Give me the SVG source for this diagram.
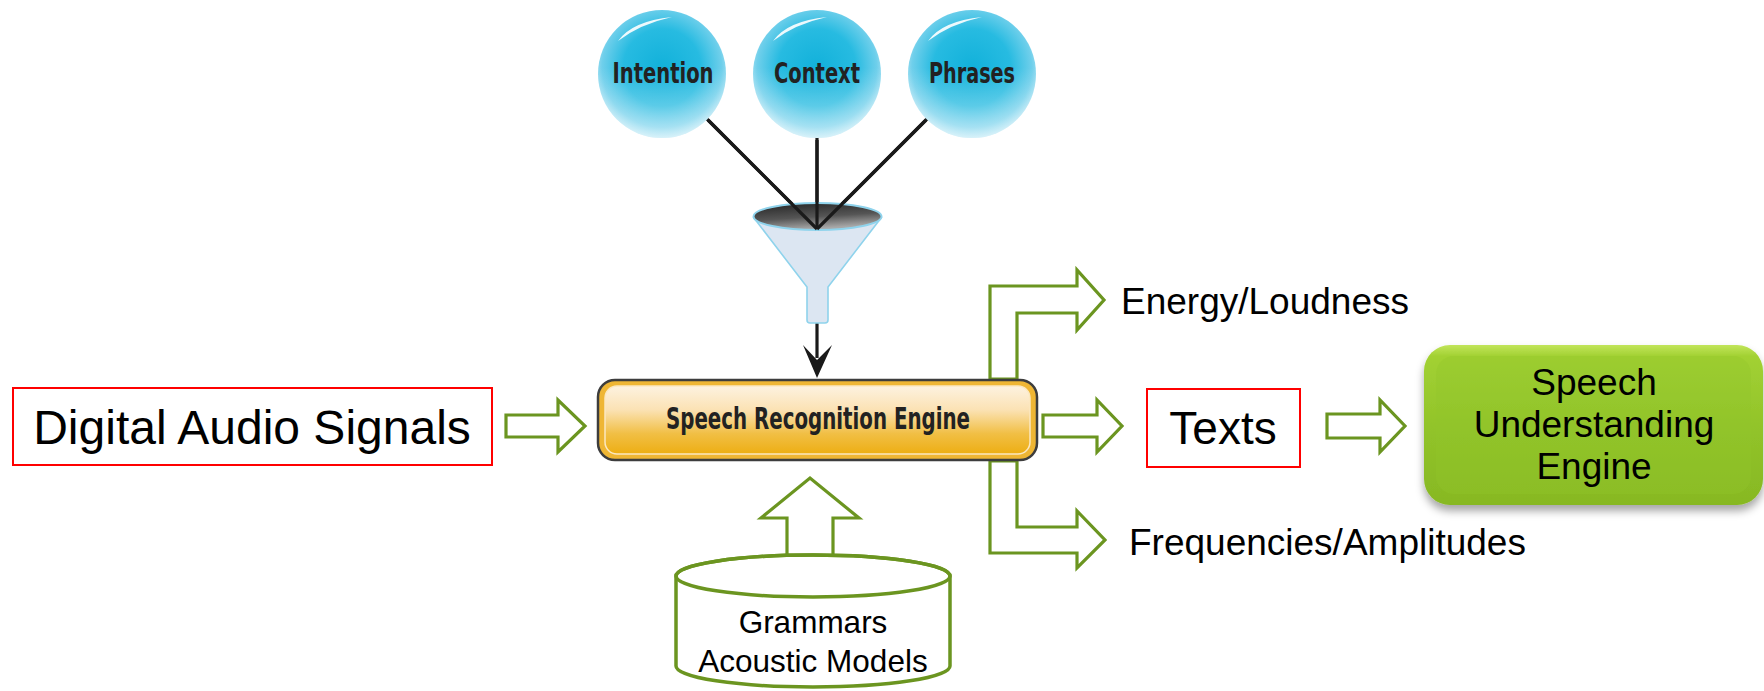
<svg xmlns="http://www.w3.org/2000/svg" xmlns:xlink="http://www.w3.org/1999/xlink" width="1764" height="691" viewBox="0 0 1764 691">
  <style>
    .label { font-family: "Liberation Sans", Arial, sans-serif; fill: #000; }
    .bold-cond { font-family: "Liberation Sans Narrow", "DejaVu Sans Condensed", "Roboto", sans-serif; font-weight: bold; fill: #222; }
    .box-red { fill: #fff; stroke: #ff0000; stroke-width: 2; }
    .block-arrow { fill: #fff; stroke: #6b9520; stroke-width: 3.2; stroke-linejoin: miter; }
    .wire { stroke: #1a1a1a; stroke-width: 3.2; fill: none; }
  </style>
  <defs>
    <radialGradient id="sphereFill" cx="50%" cy="45%" r="55%">
      <stop offset="0" stop-color="#12b1da"/>
      <stop offset="0.55" stop-color="#27bbe1"/>
      <stop offset="0.85" stop-color="#6fcfeb"/>
      <stop offset="1" stop-color="#b8e7f5"/>
    </radialGradient>
    <linearGradient id="sphereGlow" x1="0" y1="0" x2="0" y2="1">
      <stop offset="0.45" stop-color="#ffffff" stop-opacity="0"/>
      <stop offset="1" stop-color="#ffffff" stop-opacity="0.45"/>
    </linearGradient>
    <linearGradient id="funnelMouth" x1="0" y1="0" x2="0.3" y2="1">
      <stop offset="0" stop-color="#222"/>
      <stop offset="0.6" stop-color="#555"/>
      <stop offset="1" stop-color="#a8a8a8"/>
    </linearGradient>
    <linearGradient id="engineFill" x1="0" y1="0" x2="0" y2="1">
      <stop offset="0" stop-color="#fdf2e0"/>
      <stop offset="0.35" stop-color="#fbe2b4"/>
      <stop offset="0.7" stop-color="#f1bf45"/>
      <stop offset="1" stop-color="#edae13"/>
    </linearGradient>
    <linearGradient id="sueFill" x1="0" y1="0" x2="0" y2="1">
      <stop offset="0" stop-color="#c2e55a"/>
      <stop offset="0.07" stop-color="#a2d133"/>
      <stop offset="0.5" stop-color="#92c42a"/>
      <stop offset="1" stop-color="#87b823"/>
    </linearGradient>
    <filter id="softShadow" x="-10%" y="-10%" width="120%" height="130%">
      <feDropShadow dx="0" dy="6" stdDeviation="4" flood-color="#000" flood-opacity="0.35"/>
    </filter>
    <g id="sphere">
      <circle cx="0" cy="0" r="64" fill="url(#sphereFill)"/>
      <circle cx="0" cy="0" r="64" fill="url(#sphereGlow)"/>
      <path d="M -44,-33 Q -30,-53 10,-57 Q -22,-50 -44,-33 Z" fill="#ffffff" opacity="0.9"/>
    </g>
  </defs>

  <!-- connectors -->
  <g id="connectors">
    <!-- inputs feeding the funnel -->
    <line class="wire" x1="662" y1="74" x2="817" y2="229"/>
    <line class="wire" x1="817" y1="74" x2="817" y2="229"/>
    <line class="wire" x1="972" y1="74" x2="817" y2="229"/>
    <!-- funnel output into the engine -->
    <line class="wire" x1="817" y1="322" x2="817" y2="358"/>
    <polygon points="803,345 817,360 832,345 817,378" fill="#1a1a1a"/>
    <!-- digital audio -> engine -->
    <polygon class="block-arrow" points="506,415 558,415 558,400 585,426 558,452 558,437 506,437"/>
    <!-- engine -> texts -->
    <polygon class="block-arrow" points="1043,415 1097,415 1097,400 1122,426 1097,452 1097,437 1043,437"/>
    <!-- texts -> understanding engine -->
    <polygon class="block-arrow" points="1327,414 1380,414 1380,400 1405,426 1380,452 1380,438 1327,438"/>
    <!-- engine -> energy/loudness -->
    <polygon class="block-arrow" points="990,379 990,286 1077,286 1077,270 1104,300 1077,330 1077,313 1017,313 1017,379"/>
    <!-- engine -> frequencies/amplitudes -->
    <polygon class="block-arrow" points="990,461 990,553 1077,553 1077,568 1105,540 1077,511 1077,527 1017,527 1017,461"/>
    <!-- models -> engine -->
    <polygon class="block-arrow" points="787,560 787,518 761,518 810,478 859,518 833,518 833,560"/>
  </g>

  <!-- inputs -->
  <g id="intention">
    <use xlink:href="#sphere" x="662" y="74"/>
    <text class="bold-cond" x="663" y="83" font-size="28" text-anchor="middle" textLength="101" lengthAdjust="spacingAndGlyphs">Intention</text>
  </g>
  <g id="context">
    <use xlink:href="#sphere" x="817" y="74"/>
    <text class="bold-cond" x="817" y="83" font-size="28" text-anchor="middle" textLength="86" lengthAdjust="spacingAndGlyphs">Context</text>
  </g>
  <g id="phrases">
    <use xlink:href="#sphere" x="972" y="74"/>
    <text class="bold-cond" x="972" y="83" font-size="28" text-anchor="middle" textLength="86" lengthAdjust="spacingAndGlyphs">Phrases</text>
  </g>

  <!-- funnel -->
  <g id="funnel">
    <path d="M 754,218 L 807,287 L 807,320 Q 807,323 810,323 L 825,323 Q 828,323 828,320 L 828,287 L 881,218 Z" fill="#dce6f2" stroke="#8fd3ec" stroke-width="1.6"/>
    <ellipse cx="817.5" cy="216.5" rx="64" ry="13.5" fill="url(#funnelMouth)" stroke="#8fd3ec" stroke-width="2"/>
    <line class="wire" x1="708" y1="120" x2="817" y2="229"/>
    <line class="wire" x1="817" y1="140" x2="817" y2="229"/>
    <line class="wire" x1="926" y1="120" x2="817" y2="229"/>
  </g>

  <g id="digital-audio">
    <rect class="box-red" x="13" y="388" width="479" height="77"/>
    <text class="label" x="252" y="444" font-size="48" text-anchor="middle">Digital Audio Signals</text>
  </g>

  <g id="recognition-engine">
    <rect x="598" y="380" width="439" height="80" rx="17" fill="#efb634" stroke="#3d3d3d" stroke-width="2.5"/>
    <rect x="605" y="386" width="425" height="68" rx="12" fill="url(#engineFill)" stroke="#fbe8c0" stroke-width="1.5"/>
    <text class="bold-cond" x="818" y="429" font-size="30" text-anchor="middle" textLength="304" lengthAdjust="spacingAndGlyphs" fill="#262626">Speech Recognition Engine</text>
  </g>

  <g id="energy">
    <text class="label" x="1121" y="314" font-size="37">Energy/Loudness</text>
  </g>

  <g id="frequencies">
    <text class="label" x="1129" y="555" font-size="37">Frequencies/Amplitudes</text>
  </g>

  <g id="texts">
    <rect class="box-red" x="1147" y="389" width="153" height="78"/>
    <text class="label" x="1223" y="444" font-size="46" text-anchor="middle">Texts</text>
  </g>

  <g id="understanding-engine">
    <rect x="1424" y="345" width="339" height="160" rx="26" fill="url(#sueFill)" filter="url(#softShadow)"/>
    <rect x="1436" y="356" width="315" height="138" rx="18" fill="#93c62b" opacity="0.35"/>
    <text class="label" x="1594" y="395" font-size="37" text-anchor="middle">Speech</text>
    <text class="label" x="1594" y="437" font-size="37" text-anchor="middle">Understanding</text>
    <text class="label" x="1594" y="479" font-size="37" text-anchor="middle">Engine</text>
  </g>

  <g id="models">
    <path d="M 676,576 A 137,21 0 0 1 950,576 L 950,666 A 137,21 0 0 1 676,666 Z" fill="#fff" stroke="#6b9520" stroke-width="3.5"/>
    <ellipse cx="813" cy="576" rx="137" ry="21" fill="none" stroke="#6b9520" stroke-width="3.5"/>
    <text class="label" x="813" y="633" font-size="31.5" text-anchor="middle">Grammars</text>
    <text class="label" x="813" y="672" font-size="31.5" text-anchor="middle">Acoustic Models</text>
  </g>
</svg>
